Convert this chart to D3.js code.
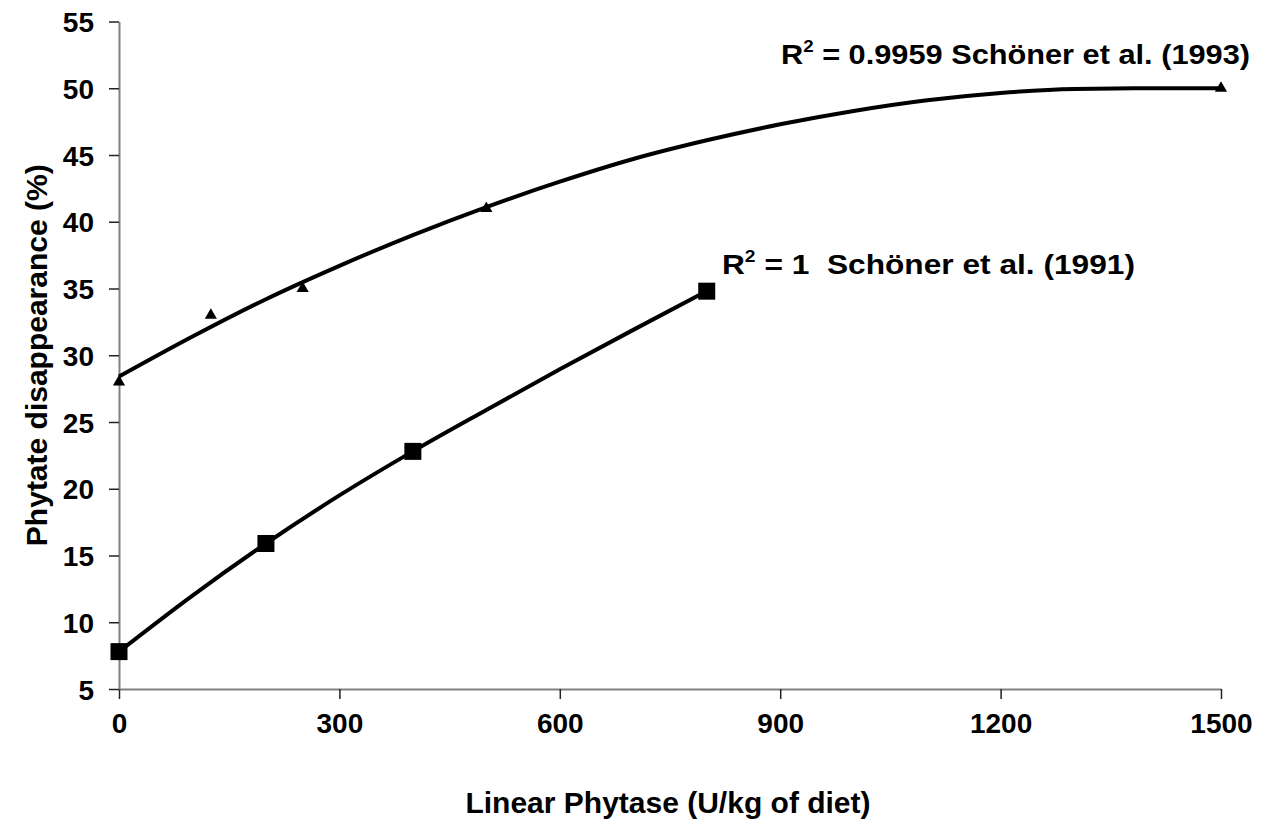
<!DOCTYPE html>
<html>
<head>
<meta charset="utf-8">
<script src="https://cdn.jsdelivr.net/npm/d3@7"></script>
<style>
  html, body { margin: 0; padding: 0; background: #fff; }
  svg { display: block; font-family: "Liberation Sans", Arial, sans-serif; }
</style>
</head>
<body>
<svg id="chart" width="1262" height="823"></svg>
<script>
// Phytate disappearance measurements (markers)
const dose1993 = [0, 125, 250, 500, 1500];
const value1993 = [28, 33, 35, 41, 50];
const dose1991 = [0, 200, 400, 800];
const value1991 = [7.8, 15.9, 22.8, 34.8];

// Fitted trend lines, sampled every 100 U/kg
const trendDose1993 = [0, 100, 200, 300, 400, 500, 600, 700, 800, 900, 1000, 1100, 1200, 1300, 1400, 1500];
const trendValue1993 = [28.4, 31.4, 34.2, 36.7, 39.0, 41.1, 43.0, 44.7, 46.1, 47.3, 48.3, 49.1, 49.65, 49.95, 50.0, 50.0];
const trendDose1991 = [0, 100, 200, 300, 400, 500, 600, 700, 800];
const trendValue1991 = [7.8, 12.0, 15.9, 19.5, 22.8, 25.9, 28.95, 31.9, 34.8];

// Axis ticks
const xTicks = [0, 300, 600, 900, 1200, 1500];
const yTicks = [5, 10, 15, 20, 25, 30, 35, 40, 45, 50, 55];

const svg = d3.select("#chart");
const x = d3.scaleLinear().domain([0, 1500]).range([119, 1221]);
const y = d3.scaleLinear().domain([5, 55]).range([689, 21.5]);

// Axes
const xAxis = d3.axisBottom(x).tickValues(xTicks).tickFormat(d3.format("d"))
  .tickSize(10).tickSizeOuter(0).tickPadding(14);
const yAxis = d3.axisLeft(y).tickValues(yTicks).tickFormat(d3.format("d"))
  .tickSize(10).tickSizeOuter(0).tickPadding(15);

const gx = svg.append("g").attr("transform", `translate(0,${y(5)})`).call(xAxis);
const gy = svg.append("g").attr("transform", `translate(${x(0)},0)`).call(yAxis);

[gx, gy].forEach(g => {
  g.select(".domain").attr("stroke", "#808080").attr("stroke-width", 2);
  g.selectAll(".tick line").attr("stroke", "#222").attr("stroke-width", 1.5);
  g.selectAll(".tick text")
    .attr("fill", "#000")
    .style("font-size", "28px")
    .style("font-weight", "bold")
    .style("font-family", "'Liberation Sans', Arial, sans-serif");
});
gy.selectAll(".tick text").attr("dy", "0.36em");

// Axis titles
svg.append("text")
  .attr("x", 668).attr("y", 813)
  .attr("text-anchor", "middle")
  .style("font-size", "30px").style("font-weight", "bold")
  .text("Linear Phytase (U/kg of diet)");

svg.append("text")
  .attr("transform", `translate(47,${(y(5) + y(55)) / 2}) rotate(-90)`)
  .attr("text-anchor", "middle")
  .style("font-size", "30px").style("font-weight", "bold")
  .text("Phytate disappearance (%)");

// Trend lines
const line = d3.line()
  .x(d => x(d[0]))
  .y(d => y(d[1]))
  .curve(d3.curveMonotoneX);

svg.append("path")
  .datum(d3.zip(trendDose1993, trendValue1993))
  .attr("d", line)
  .attr("fill", "none").attr("stroke", "#000").attr("stroke-width", 4)
  .attr("stroke-linejoin", "round");

svg.append("path")
  .datum(d3.zip(trendDose1991, trendValue1991))
  .attr("d", line)
  .attr("fill", "none").attr("stroke", "#000").attr("stroke-width", 4)
  .attr("stroke-linejoin", "round");

// Markers
const tri = d3.symbol().type(d3.symbolTriangle).size(64);
svg.append("g").selectAll("path")
  .data(d3.zip(dose1993, value1993))
  .join("path")
  .attr("d", tri)
  .attr("transform", d => `translate(${x(d[0])},${y(d[1])})`)
  .attr("fill", "#000");

const sq = 17;
svg.append("g").selectAll("rect")
  .data(d3.zip(dose1991, value1991))
  .join("rect")
  .attr("x", d => x(d[0]) - sq / 2)
  .attr("y", d => y(d[1]) - sq / 2)
  .attr("width", sq).attr("height", sq)
  .attr("fill", "#000");

// Regression labels
function label(xPos, yPos, width, pre, post) {
  const t = svg.append("text")
    .attr("x", xPos).attr("y", yPos)
    .attr("textLength", width).attr("lengthAdjust", "spacingAndGlyphs")
    .style("font-size", "28px").style("font-weight", "bold")
    .attr("xml:space", "preserve");
  t.append("tspan").text(pre);
  t.append("tspan").attr("dy", -12).style("font-size", "17px").text("2");
  t.append("tspan").attr("dy", 12).text(post);
}
label(781, 64, 469, "R", " = 0.9959 Schöner et al. (1993)");
label(722, 274, 413, "R", " = 1  Schöner et al. (1991)");
</script>
</body>
</html>
